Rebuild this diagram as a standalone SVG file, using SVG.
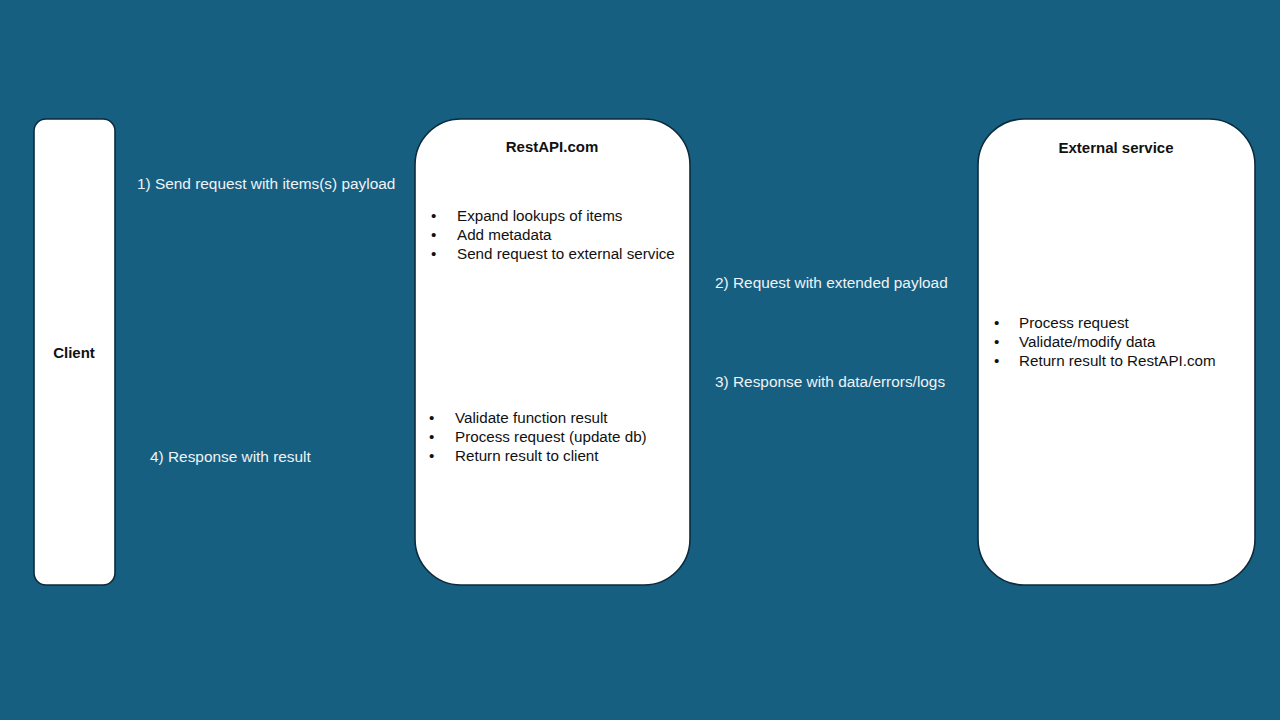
<svg xmlns="http://www.w3.org/2000/svg" width="1280" height="720" viewBox="0 0 1280 720">
<style>
.box{fill:#ffffff;stroke:#0c2b3c;stroke-width:1.6}
.t{font-family:"Liberation Sans",Arial,sans-serif;font-size:15.2px;fill:#111111}
.b{font-family:"Liberation Sans",Arial,sans-serif;font-size:15px;font-weight:bold;fill:#111111;text-anchor:middle}
.l{font-family:"Liberation Sans",Arial,sans-serif;font-size:15.4px;fill:#eef3f6}
</style>
<rect x="0" y="0" width="1280" height="720" fill="#175f81"/>
<g id="client">
<rect class="box" x="34" y="119" width="81" height="466" rx="12" ry="12"/>
<text class="b" x="74" y="358">Client</text>
</g>
<g id="restapi">
<rect class="box" x="415" y="119" width="275" height="466" rx="46" ry="46"/>
<text class="b" x="552" y="152">RestAPI.com</text>
<text class="t" x="431" y="221">•</text><text class="t" x="457" y="221">Expand lookups of items</text>
<text class="t" x="431" y="240">•</text><text class="t" x="457" y="240">Add metadata</text>
<text class="t" x="431" y="259">•</text><text class="t" x="457" y="259">Send request to external service</text>
<text class="t" x="429" y="423">•</text><text class="t" x="455" y="423">Validate function result</text>
<text class="t" x="429" y="442">•</text><text class="t" x="455" y="442">Process request (update db)</text>
<text class="t" x="429" y="461">•</text><text class="t" x="455" y="461">Return result to client</text>
</g>
<g id="external">
<rect class="box" x="978" y="119" width="277" height="466" rx="46" ry="46"/>
<text class="b" x="1116" y="153">External service</text>
<text class="t" x="994" y="328">•</text><text class="t" x="1019" y="328">Process request</text>
<text class="t" x="994" y="347">•</text><text class="t" x="1019" y="347">Validate/modify data</text>
<text class="t" x="994" y="366">•</text><text class="t" x="1019" y="366">Return result to RestAPI.com</text>
</g>
<g id="connectors">
<text class="l" x="137" y="189">1) Send request with items(s) payload</text>
<text class="l" x="715" y="288">2) Request with extended payload</text>
<text class="l" x="715" y="387">3) Response with data/errors/logs</text>
<text class="l" x="150" y="462">4) Response with result</text>
</g>
</svg>
